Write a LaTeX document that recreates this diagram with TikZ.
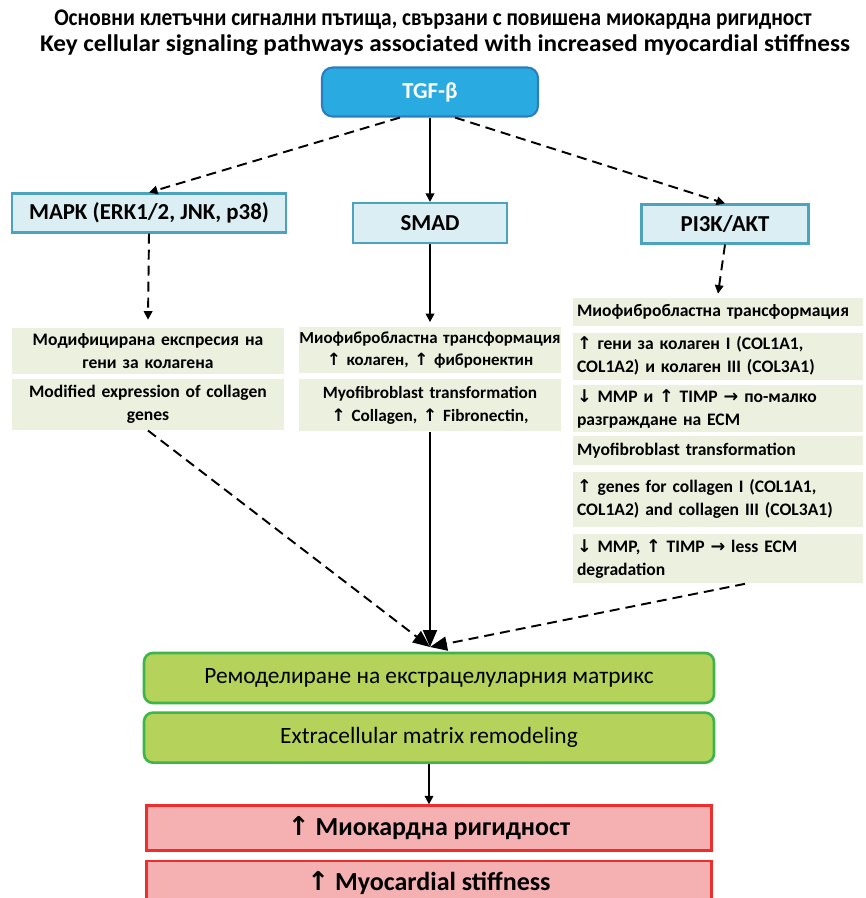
\documentclass[tikz,border=0pt]{standalone}
\usepackage{fontspec}
\setmainfont{Carlito}
\newfontfamily\arrfont{DejaVu Sans}
\newcommand{\uarr}{{\arrfont\char"2191}}
\newcommand{\darr}{{\arrfont\char"2193}}
\newcommand{\rarr}{{\arrfont\char"2192}}
\usetikzlibrary{positioning,arrows.meta}
\definecolor{tgfblue}{HTML}{29ABE2}
\definecolor{tgfedge}{HTML}{2E7DC0}
\definecolor{pathfill}{HTML}{DAEEF3}
\definecolor{pathedge}{HTML}{4BA3BE}
\definecolor{notefill}{HTML}{EBF1DE}
\definecolor{ecmfill}{HTML}{B5D35B}
\definecolor{ecmedge}{HTML}{3DB54A}
\definecolor{stifffill}{HTML}{F5B1B2}
\definecolor{stiffedge}{HTML}{EE2D2D}
\tikzset{
    root/.style={
           rectangle, rounded corners=6pt,
           draw=tgfedge, very thick,
           fill=tgfblue,
           minimum width=4.32cm, minimum height=0.98cm,
           font=\bfseries\fontsize{13}{15}\selectfont,
           text=white,
           },
}
\tikzset{
    pathway/.style={
           rectangle,
           draw=pathedge, very thick,
           fill=pathfill,
           minimum height=0.78cm,
           font=\bfseries\fontsize{13}{15}\selectfont,
           text centered,
           },
}
\tikzset{
    note/.style={
           rectangle,
           fill=notefill,
           inner xsep=0.04cm, inner ysep=0pt,
           font=\bfseries\fontsize{10}{13}\selectfont,
           align=center,
           },
}
\tikzset{
    noteleft/.style={
           note,
           inner xsep=0.08cm,
           text width=5.64cm, minimum height=0.94cm,
           align=left,
           },
}
\tikzset{
    ecm/.style={
           rectangle, rounded corners=5pt,
           draw=ecmedge, line width=1.5pt,
           fill=ecmfill,
           minimum width=11.4cm, minimum height=1.0cm,
           font=\fontsize{13.3}{15}\selectfont,
           },
}
\tikzset{
    stiff/.style={
           rectangle,
           draw=stiffedge, line width=1.3pt,
           fill=stifffill,
           minimum width=11.3cm, minimum height=0.9cm,
           font=\bfseries\fontsize{14.8}{17}\selectfont,
           },
}
\tikzset{
    heading/.style={font=\bfseries\fontsize{13.6}{15}\selectfont},
    solidarr/.style={line width=1.1pt, -{Triangle[length=1.7mm,width=1.7mm]}},
    dasharr/.style={solidarr, dash pattern=on 2mm off 1.2mm},
    bigtip/.style={-{Triangle[length=3.4mm,width=2.8mm]}},
}

\begin{document}
\begin{tikzpicture}[x=0.02cm,y=-0.02cm]
\useasboundingbox (0,0) rectangle (865,898);
% title
\node[heading](title1) at (433,20)
  {\scalebox{0.894}[1]{Основни клетъчни сигнални пътища, свързани с повишена миокардна ригидност}};
\node[heading](title2) at (445,45)
  {\scalebox{1.054}[1]{Key cellular signaling pathways associated with increased myocardial stiffness}};
% top and the three pathways
\node[root](tgf) at (430,92){TGF-β};
\node[pathway,minimum width=5.48cm](mapk) at (149,213){MAPK (ERK1/2, JNK, p38)};
\node[pathway,minimum width=3.08cm,minimum height=0.8cm](smad) at (430,223){SMAD};
\node[pathway,minimum width=3.34cm](pi3k) at (725,224){PI3K/AKT};
% MAPK notes
\node[note,text width=5.36cm,minimum height=0.94cm](mapk1) at (148,351)
  {Модифицирана експресия на\\ гени за колагена};
\node[note,text width=5.36cm,minimum height=1.02cm,below=0.08cm of mapk1](mapk2)
  {Modified expression of collagen\\ genes};
% SMAD notes
\node[note,inner xsep=0pt,text width=5.24cm,minimum height=0.94cm,
      font=\bfseries\fontsize{9.6}{13}\selectfont](smad1) at (430,350)
  {Миофибробластна трансформация\\ \uarr{} колаген, \uarr{} фибронектин};
\node[note,inner xsep=0pt,text width=5.24cm,minimum height=1.04cm,
      font=\bfseries\fontsize{9.8}{13}\selectfont,below=0.1cm of smad1](smad2)
  {Myofibroblast transformation\\ \uarr{} Collagen, \uarr{} Fibronectin,};
% PI3K notes
\node[noteleft,minimum height=0.56cm](pi1) at (718,312){Миофибробластна трансформация};
\node[noteleft,below=0.12cm of pi1](pi2)
  {\uarr{} гени за колаген I (COL1A1,\\ COL1A2) и колаген III (COL3A1)};
\node[noteleft,below=0.1cm of pi2](pi3)
  {\darr{} MMP и \uarr{} TIMP \rarr{} по-малко\\ разграждане на ECM};
\node[noteleft,minimum height=0.58cm,below=0.06cm of pi3](pi4){Myofibroblast transformation};
\node[noteleft,minimum height=1.1cm,below=0.12cm of pi4](pi5)
  {\uarr{} genes for collagen I (COL1A1,\\ COL1A2) and collagen III (COL3A1)};
\node[noteleft,minimum height=0.98cm,below=0.14cm of pi5](pi6)
  {\darr{} MMP, \uarr{} TIMP \rarr{} less ECM\\ degradation};
% remodeling and stiffness
\coordinate (meet) at (430,647);
\node[ecm](ecm1) at (429,678){Ремоделиране на екстрацелуларния матрикс};
\node[ecm,below=0.14cm of ecm1](ecm2){Extracellular matrix remodeling};
\node[stiff](stiff1) at (429,828){\uarr{} Миокардна ригидност};
\node[stiff,below=0.16cm of stiff1](stiff2){\uarr{} Myocardial stiffness};
% connectors
\draw[dasharr] ([xshift=-0.6cm]tgf.south) -- (mapk.north);
\draw[solidarr] (tgf.south) -- (smad.north);
\draw[dasharr] ([xshift=0.5cm]tgf.south) -- (pi3k.north);
\draw[dasharr] (mapk.south) -- ([yshift=0.15cm]mapk1.north);
\draw[solidarr] (smad.south) -- ([yshift=0.08cm]smad1.north);
\draw[dasharr] (pi3k.south) -- ([yshift=0.08cm]pi1.north);
\draw[dasharr,bigtip] (mapk2.south) -- (meet);
\draw[solidarr,bigtip] (smad2.south) -- (meet);
\draw[dasharr,bigtip] ([xshift=0.54cm]pi6.south) -- (meet);
\draw[solidarr] (ecm2.south) -- (stiff1.north);
\end{tikzpicture}
\end{document}
